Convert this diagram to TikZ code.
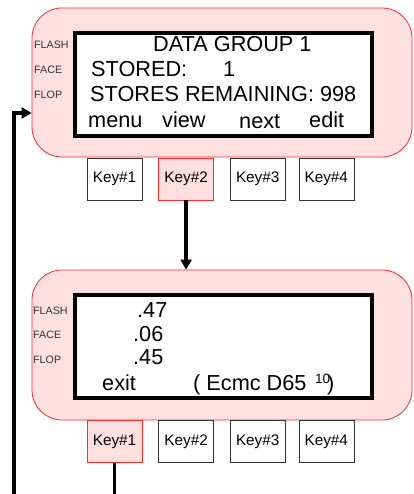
\documentclass[tikz,border=0pt]{standalone}
\usepackage{fontspec}
\setmainfont{Liberation Sans}
\usetikzlibrary{arrows.meta, positioning}
\definecolor{panelPink}{HTML}{FFE0E0}
\definecolor{panelRed}{HTML}{FF2A2A}

\begin{document}
\begin{tikzpicture}[x=1pt, y=-1pt,
    node distance=16pt,
    panel/.style={rectangle, rounded corners=30pt, draw=panelRed, fill=panelPink,
                  line width=0.8pt, minimum width=380pt, minimum height=149pt, inner sep=0pt},
    screen/.style={rectangle, draw=black, fill=white, line width=4pt,
                   minimum width=297pt, minimum height=103pt, inner sep=0pt},
    side/.style={font=\fontsize{10.7}{12}\selectfont, text=black!80, anchor=base west, inner sep=0pt},
    lcd/.style={font=\fontsize{21.7}{25}\selectfont, anchor=base west, inner sep=0pt},
    sup/.style={font=\fontsize{13.5}{15}\selectfont, anchor=base west, inner sep=0pt},
    key/.style={rectangle, draw=black!80, fill=white, line width=0.6pt,
                minimum width=55pt, minimum height=42pt, font=\fontsize{15.3}{18}\selectfont, inner sep=0pt},
    keyon/.style={key, draw=panelRed, fill=panelPink},
    flow/.style={line width=3.5pt, -{Triangle[length=10pt, width=11pt]}},
  ]
    \useasboundingbox (0,0) rectangle (413,494);

    % data group panel
    \node[panel] (top) at (222,82.5) {};
    \node[screen] (topscr) at (223.5,84.5) {};
    \node[side] (tflash) at (34,49) {FLASH};
    \node[side] (tface) at (34,74) {FACE};
    \node[side] (tflop) at (34,99) {FLOP};
    \node[lcd] (title) at (153,52) {DATA GROUP 1};
    \node[lcd] (stored) at (91,77) {STORED:};
    \node[lcd] (storedn) at (223,77) {1};
    \node[lcd] (remain) at (90,102) {STORES REMAINING: 998};
    \node[lcd] (menu) at (88,128) {menu};
    \node[lcd] (view) at (162,128) {view};
    \node[lcd] (next) at (239,129) {next};
    \node[lcd] (edit) at (309,128) {edit};

    \node[key] (k1a) at (114.5,179) {Key\#1};
    \node[keyon, right=of k1a] (k2a) {Key\#2};
    \node[key, right=of k2a] (k3a) {Key\#3};
    \node[key, right=13pt of k3a] (k4a) {Key\#4};

    % values panel
    \node[panel, minimum height=150pt] (bot) at (222,345) {};
    \node[screen] (botscr) at (223.5,346.5) {};
    \node[side] (bflash) at (33,314) {FLASH};
    \node[side] (bface) at (33,338) {FACE};
    \node[side] (bflop) at (33,363) {FLOP};
    \node[lcd] (vflash) at (137,317) {.47};
    \node[lcd] (vface) at (133,341) {.06};
    \node[lcd] (vflop) at (133,364) {.45};
    \node[lcd] (exit) at (102,390) {exit};
    \node[lcd] (ecmc) at (193,390) {( Ecmc D65};
    \node[sup] (ten) at (315,383) {10};
    \node[lcd] (close) at (327,390) {)};

    \node[keyon] (k1b) at (114.5,441.5) {Key\#1};
    \node[key, right=of k1b] (k2b) {Key\#2};
    \node[key, right=of k2b] (k3b) {Key\#3};
    \node[key, right=13pt of k3b] (k4b) {Key\#4};

    % connectors
    \coordinate (loopy) at (14,113);
    \draw[flow] (k2a.south) -- (k2a.south |- bot.north);
    \draw[flow] (k1b.south) -- ++(0,50) -| (loopy) -- (top.west |- loopy);
  \end{tikzpicture}
\end{document}
